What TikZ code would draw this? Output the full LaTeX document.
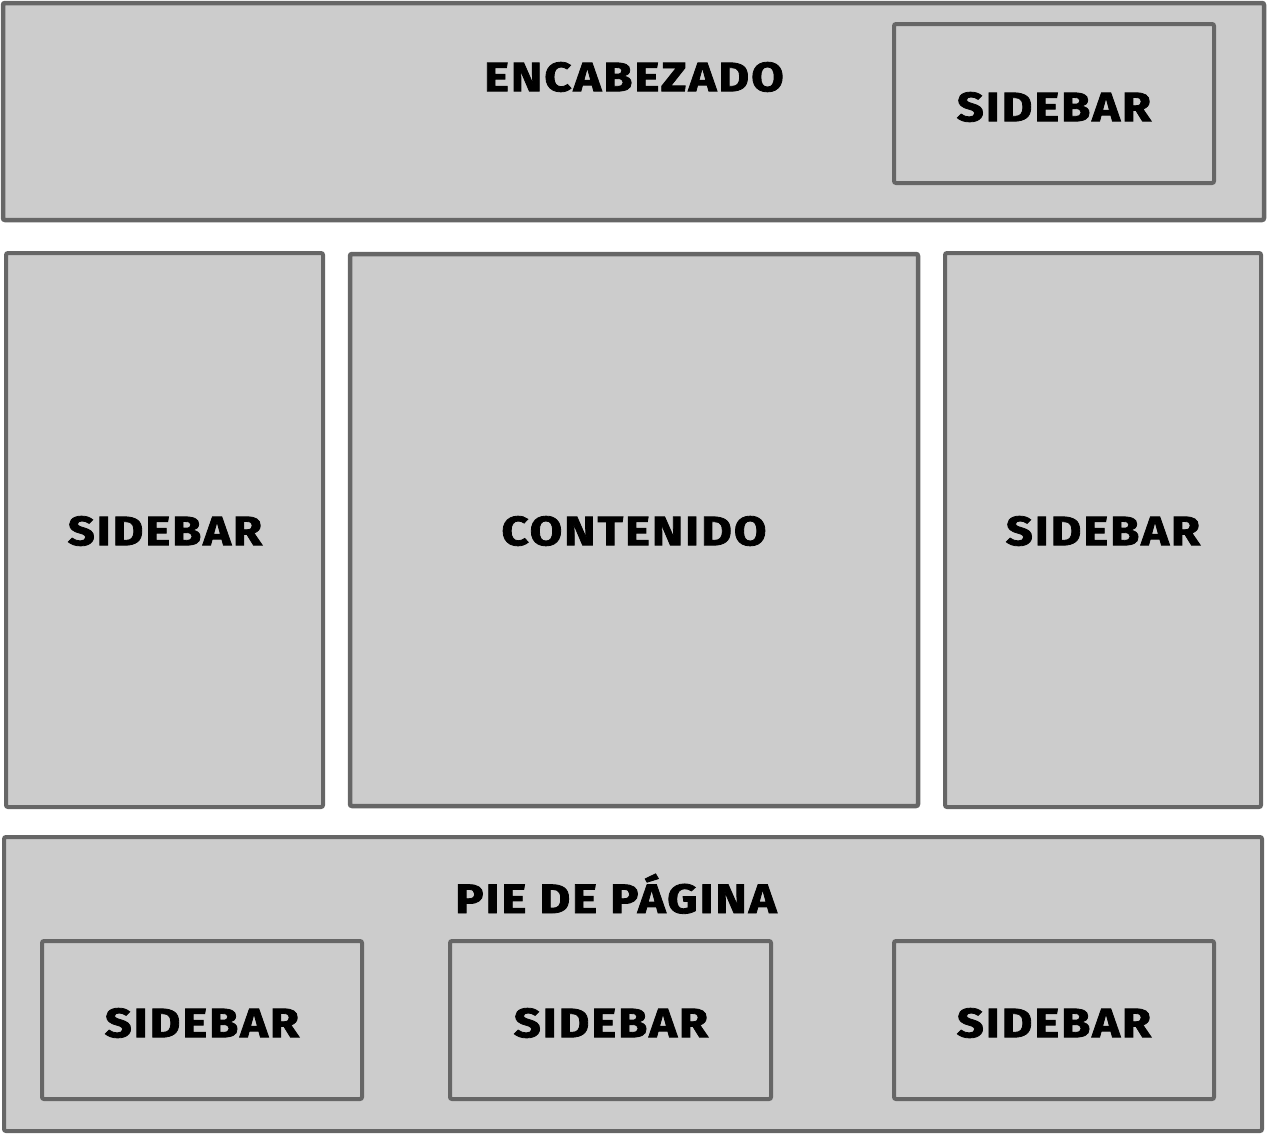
\documentclass[tikz,border=0pt]{standalone}
\usepackage{fontspec}
\setmainfont{Fira Sans}[UprightFont=* Bold, FakeBold=2, FakeStretch=1.15, LetterSpace=5]
\definecolor{boxfill}{HTML}{CCCCCC}
\definecolor{boxline}{HTML}{666666}
\tikzset{
  panel/.style={draw=boxline, fill=boxfill, line width=4.5pt, rounded corners=2pt},
  inner/.style={draw=boxline, fill=boxfill, line width=4pt, rounded corners=2pt},
  lbl/.style={font=\fontsize{41}{44}\selectfont, text=black, inner sep=0pt, anchor=center}
}
\begin{document}
\begin{tikzpicture}[x=1pt,y=-1pt]
\useasboundingbox (0,0) rectangle (1268,1135);
% header
\draw[panel] (3,3) rectangle (1264,220);
\draw[inner] (894,24) rectangle (1214,183);
\node[lbl] (enc) at (634,77) {ENCABEZADO};
\node[lbl] (hs) at (1054,107) {SIDEBAR};
% middle
\draw[inner] (6,253) rectangle (323,807);
\draw[panel] (350,254) rectangle (918,806);
\draw[inner] (945,253) rectangle (1261,807);
\node[lbl] (ls) at (165,531) {SIDEBAR};
\node[lbl] (cont) at (634,531) {CONTENIDO};
\node[lbl] (rs) at (1103,531) {SIDEBAR};
% footer
\draw[inner] (4,837) rectangle (1262,1131);
\node[lbl, anchor=base] (pie) at (616,913) {PIE DE PÁGINA};
\draw[inner] (42,941) rectangle (362,1099);
\draw[inner] (450,941) rectangle (771,1099);
\draw[inner] (894,941) rectangle (1214,1099);
\node[lbl] (f1) at (202,1023) {SIDEBAR};
\node[lbl] (f2) at (611,1023) {SIDEBAR};
\node[lbl] (f3) at (1054,1023) {SIDEBAR};
\end{tikzpicture}
\end{document}
